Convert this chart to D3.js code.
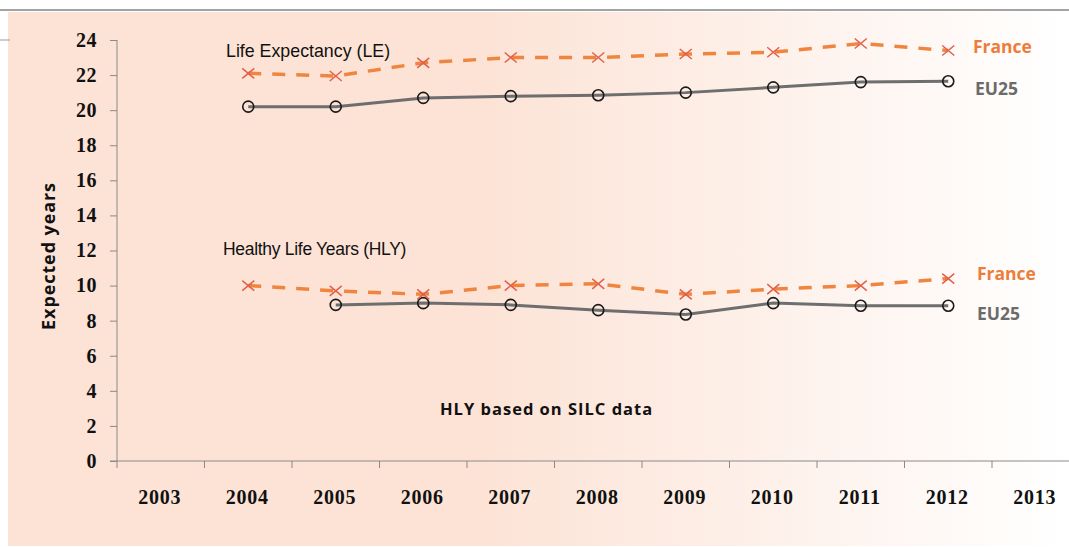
<!DOCTYPE html>
<html>
<head>
<meta charset="utf-8">
<script src="https://cdn.jsdelivr.net/npm/d3@7"></script>
<style>
  body { margin: 0; background: #fff; }
  svg { display: block; }
</style>
</head>
<body>
<svg id="chart" width="1069" height="547"></svg>
<script>
"use strict";

// categories along the x axis
var years = ["2003", "2004", "2005", "2006", "2007", "2008", "2009", "2010", "2011", "2012", "2013"];
var yTicks = [0, 2, 4, 6, 8, 10, 12, 14, 16, 18, 20, 22, 24];

// life expectancy (LE)
var leYears = ["2004", "2005", "2006", "2007", "2008", "2009", "2010", "2011", "2012"];
var leFrance = [22.1, 21.95, 22.7, 23.0, 23.0, 23.2, 23.3, 23.8, 23.4];
var leEU25 = [20.2, 20.2, 20.7, 20.8, 20.85, 21.0, 21.3, 21.6, 21.65];

// healthy life years (HLY)
var hlyFranceYears = ["2004", "2005", "2006", "2007", "2008", "2009", "2010", "2011", "2012"];
var hlyFrance = [10.0, 9.7, 9.5, 10.0, 10.1, 9.5, 9.8, 10.0, 10.4];
var hlyEUYears = ["2005", "2006", "2007", "2008", "2009", "2010", "2011", "2012"];
var hlyEU25 = [8.9, 9.0, 8.9, 8.6, 8.35, 9.0, 8.85, 8.85];

var svg = d3.select("#chart");

var defs = svg.append("defs");
var grad = defs.append("linearGradient")
    .attr("id", "bg")
    .attr("x1", "0%").attr("x2", "100%")
    .attr("y1", "0%").attr("y2", "0%");
grad.append("stop").attr("offset", "0%").attr("stop-color", "#fce3d6");
grad.append("stop").attr("offset", "45%").attr("stop-color", "#fce3d6");
grad.append("stop").attr("offset", "100%").attr("stop-color", "#ffffff");

// background panel + top rule
svg.append("rect")
    .attr("x", 8).attr("y", 12)
    .attr("width", 1061).attr("height", 534)
    .attr("fill", "url(#bg)");
svg.append("line")
    .attr("x1", 0).attr("x2", 1069)
    .attr("y1", 10).attr("y2", 10)
    .attr("stroke", "#a3a3a3").attr("stroke-width", 2);
svg.append("line")
    .attr("x1", 0).attr("x2", 10)
    .attr("y1", 40).attr("y2", 40)
    .attr("stroke", "#999").attr("stroke-width", 1);

var x = d3.scaleBand()
    .domain(years)
    .range([117, 117 + 11 * 87.5])
    .padding(0);

var y = d3.scaleLinear()
    .domain([0, 24])
    .range([461, 40]);

var cx = function(yr) { return x(yr) + x.bandwidth() / 2; };

// y axis
var yAxis = svg.append("g")
    .attr("transform", "translate(117,0)")
    .call(d3.axisLeft(y).tickValues(yTicks).tickSize(7).tickPadding(13));
yAxis.select(".domain").attr("stroke", "#8a8a8a").attr("d", "M0," + y(24) + "V" + y(0));
yAxis.selectAll(".tick line").attr("stroke", "#8a8a8a");
yAxis.selectAll(".tick text")
    .style("font-family", "'Liberation Serif', serif")
    .style("font-weight", "bold")
    .style("font-size", "20px")
    .style("letter-spacing", "0.5px")
    .attr("fill", "#111");

// x axis (ticks at band boundaries)
var xg = svg.append("g").attr("transform", "translate(0," + y(0) + ")");
xg.append("line")
    .attr("x1", 110).attr("x2", 1069)
    .attr("y1", 0).attr("y2", 0)
    .attr("stroke", "#8a8a8a");
xg.selectAll(".xtick")
    .data(years)
  .enter().append("line")
    .attr("class", "xtick")
    .attr("x1", function(d) { return x(d); })
    .attr("x2", function(d) { return x(d); })
    .attr("y1", 0).attr("y2", 7)
    .attr("stroke", "#8a8a8a");
xg.selectAll(".xlabel")
    .data(years)
  .enter().append("text")
    .attr("class", "xlabel")
    .attr("x", function(d) { return cx(d) - 1; })
    .attr("y", 43)
    .attr("text-anchor", "middle")
    .style("font-family", "'Liberation Serif', serif")
    .style("font-weight", "bold")
    .style("font-size", "20px")
    .style("letter-spacing", "0.8px")
    .attr("fill", "#111")
    .text(function(d) { return d; });

// y axis title
svg.append("text")
    .attr("transform", "translate(55,256) rotate(-90)")
    .attr("text-anchor", "middle")
    .style("font-family", "'Open Sans', sans-serif")
    .style("font-weight", "bold")
    .style("font-size", "18px")
    .style("letter-spacing", "0.9px")
    .attr("fill", "#111")
    .text("Expected years");

var line = d3.line()
    .x(function(d) { return cx(d[0]); })
    .y(function(d) { return y(d[1]); });

function drawFrance(yrs, vals) {
  var pts = d3.zip(yrs, vals);
  svg.append("path")
      .datum(pts)
      .attr("d", line)
      .attr("fill", "none")
      .attr("stroke", "#f0853f")
      .attr("stroke-width", 3.5)
      .attr("stroke-dasharray", "13,11");
  svg.append("g").selectAll("path")
      .data(pts)
    .enter().append("path")
      .attr("transform", function(d) { return "translate(" + cx(d[0]) + "," + y(d[1]) + ")"; })
      .attr("d", "M-6,-5L6,5M-6,5L6,-5")
      .attr("stroke", "#e2604a")
      .attr("stroke-width", 1.5);
}

function drawEU(yrs, vals) {
  var pts = d3.zip(yrs, vals);
  svg.append("path")
      .datum(pts)
      .attr("d", line)
      .attr("fill", "none")
      .attr("stroke", "#6e6e6e")
      .attr("stroke-width", 3);
  svg.append("g").selectAll("circle")
      .data(pts)
    .enter().append("circle")
      .attr("cx", function(d) { return cx(d[0]); })
      .attr("cy", function(d) { return y(d[1]); })
      .attr("r", 5.5)
      .attr("fill", "none")
      .attr("stroke", "#1a1a1a")
      .attr("stroke-width", 1.6);
}

drawEU(leYears, leEU25);
drawFrance(leYears, leFrance);
drawEU(hlyEUYears, hlyEU25);
drawFrance(hlyFranceYears, hlyFrance);

// annotations
function note(tx, ty, str, opts) {
  svg.append("text")
      .attr("x", tx).attr("y", ty)
      .style("font-family", opts.family)
      .style("font-weight", opts.weight || "normal")
      .style("font-size", opts.size)
      .style("letter-spacing", opts.spacing || "0px")
      .attr("fill", opts.color)
      .text(str);
}
var thin = {family: "'Liberation Sans', Arial, sans-serif", size: "17.5px", color: "#111", spacing: "-0.3px"};
var lbl = {family: "'Open Sans', sans-serif", weight: "bold", size: "17.5px"};

note(226, 57, "Life Expectancy (LE)", Object.assign({}, thin, {spacing: "0px", size: "17.8px"}));
note(223, 255, "Healthy Life Years (HLY)", thin);
note(440, 415, "HLY based on SILC data",
     {family: "'Open Sans', sans-serif", weight: "bold", size: "16.5px", color: "#111", spacing: "1px"});

note(973, 53, "France", Object.assign({color: "#ec7d3a"}, lbl));
note(975, 95, "EU25", Object.assign({color: "#6b6b6b"}, lbl));
note(977, 280, "France", Object.assign({color: "#ec7d3a"}, lbl));
note(977, 320, "EU25", Object.assign({color: "#6b6b6b"}, lbl));
</script>
</body>
</html>
